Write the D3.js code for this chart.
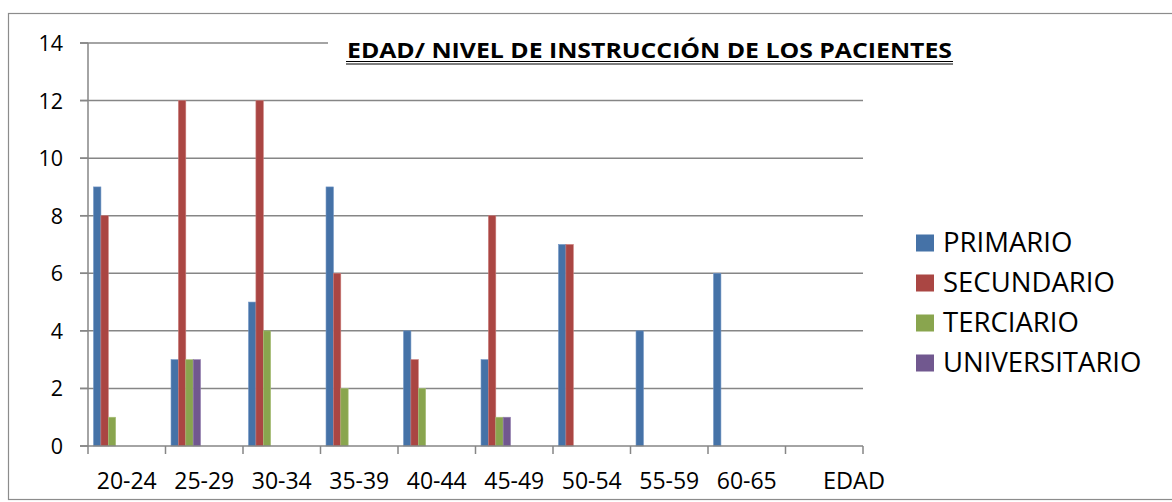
<!DOCTYPE html>
<html>
<head>
<meta charset="utf-8">
<script src="https://cdn.jsdelivr.net/npm/d3@7"></script>
<style>
  body { margin: 0; background: #fff; }
  text { font-family: "Open Sans", "Noto Sans", sans-serif; fill: #000; }
</style>
</head>
<body>
<svg id="chart" width="1172" height="502"></svg>
<script>
// chart data
const categories = ['20-24', '25-29', '30-34', '35-39', '40-44', '45-49', '50-54', '55-59', '60-65', ''];
const series = ['PRIMARIO', 'SECUNDARIO', 'TERCIARIO', 'UNIVERSITARIO'];
const primario = [9, 3, 5, 9, 4, 3, 7, 4, 6, 0];
const secundario = [8, 12, 12, 6, 3, 8, 7, 0, 0, 0];
const terciario = [1, 3, 4, 2, 2, 1, 0, 0, 0, 0];
const universitario = [0, 3, 0, 0, 0, 1, 0, 0, 0, 0];
const yTicks = [0, 2, 4, 6, 8, 10, 12, 14];
const colors = ['#4572A7', '#AA4643', '#89A54E', '#71588F'];
const strokes = ['#6f93c4', '#c97a77', '#a9c07a', '#9580b0'];

const values = [primario, secundario, terciario, universitario];

const svg = d3.select('#chart');

// outer frame
svg.append('rect')
    .attr('x', 8.5).attr('y', 13.5)
    .attr('width', 1200).attr('height', 486)
    .style('fill', '#fff')
    .style('stroke', '#8c8c8c')
    .style('stroke-width', 1.2);

const x = d3.scaleBand().domain(categories).range([88, 863]).padding(0);
const y = d3.scaleLinear().domain([0, 14]).range([446, 43]);

const bw = x.bandwidth() / 10.5;
const offset = bw * 0.75;

// gridlines
svg.append('g').selectAll('line')
    .data(yTicks.filter(d => d > 0))
    .join('line')
    .attr('x1', 80)
    .attr('x2', 863)
    .attr('y1', d => y(d))
    .attr('y2', d => y(d))
    .style('stroke', '#868686')
    .style('stroke-width', 1.5);

// title box covers part of the top gridline
svg.append('rect')
    .attr('x', 328).attr('y', 28)
    .attr('width', 640).attr('height', 42)
    .style('fill', '#fff');

// bars
series.forEach(function (s, i) {
    svg.append('g').selectAll('rect')
        .data(values[i].map((v, j) => ({ cat: categories[j], v: v })))
        .join('rect')
        .filter(d => d.v > 0)
        .attr('x', d => x(d.cat) + offset + i * bw)
        .attr('y', d => y(d.v))
        .attr('width', bw)
        .attr('height', d => y(0) - y(d.v))
        .style('fill', colors[i])
        .style('stroke', strokes[i])
        .style('stroke-width', 0.6);
});

// y axis
const yAxis = svg.append('g');
yAxis.append('line')
    .attr('x1', 88).attr('x2', 88)
    .attr('y1', 43).attr('y2', 446)
    .style('stroke', '#868686').style('stroke-width', 1.5);
yAxis.selectAll('line.tick')
    .data(yTicks)
    .join('line')
    .attr('class', 'tick')
    .attr('x1', 80).attr('x2', 88)
    .attr('y1', d => y(d)).attr('y2', d => y(d))
    .style('stroke', '#868686').style('stroke-width', 1.5);
yAxis.selectAll('text')
    .data(yTicks)
    .join('text')
    .attr('x', 63)
    .attr('y', d => y(d) + 8)
    .attr('text-anchor', 'end')
    .style('font-size', '21.5px')
    .text(d => d);

// x axis
const xAxis = svg.append('g');
xAxis.append('line')
    .attr('x1', 80).attr('x2', 863)
    .attr('y1', 446).attr('y2', 446)
    .style('stroke', '#868686').style('stroke-width', 1.5);
const edges = categories.map(c => x(c)).concat([863]);
xAxis.selectAll('line.tick')
    .data(edges)
    .join('line')
    .attr('class', 'tick')
    .attr('x1', d => d).attr('x2', d => d)
    .attr('y1', 446).attr('y2', 454)
    .style('stroke', '#868686').style('stroke-width', 1.5);
xAxis.selectAll('text')
    .data(categories)
    .join('text')
    .attr('x', d => x(d) + x.bandwidth() / 2)
    .attr('y', 489)
    .attr('text-anchor', 'middle')
    .style('font-size', '23px')
    .text(d => d);

svg.append('text')
    .attr('x', 854)
    .attr('y', 489)
    .attr('text-anchor', 'middle')
    .style('font-size', '23.5px')
    .text('EDAD');

// title with double underline
svg.append('text')
    .attr('x', 347)
    .attr('y', 57.5)
    .attr('textLength', 605)
    .attr('lengthAdjust', 'spacingAndGlyphs')
    .style('font-size', '21.5px')
    .style('font-weight', 'bold')
    .text('EDAD/ NIVEL DE INSTRUCCIÓN DE LOS PACIENTES');
[61.5, 64].forEach(function (yy) {
    svg.append('line')
        .attr('x1', 346).attr('x2', 953)
        .attr('y1', yy).attr('y2', yy)
        .style('stroke', '#000')
        .style('stroke-width', 1.2);
});

// legend
const legend = svg.append('g');
legend.selectAll('rect')
    .data(series)
    .join('rect')
    .attr('x', 916)
    .attr('y', (d, i) => 234.5 + i * 40)
    .attr('width', 18)
    .attr('height', 17)
    .style('fill', (d, i) => colors[i]);
legend.selectAll('text')
    .data(series)
    .join('text')
    .attr('x', 943)
    .attr('y', (d, i) => 251.5 + i * 40)
    .style('font-size', '27.5px')
    .text(d => d);
</script>
</body>
</html>
